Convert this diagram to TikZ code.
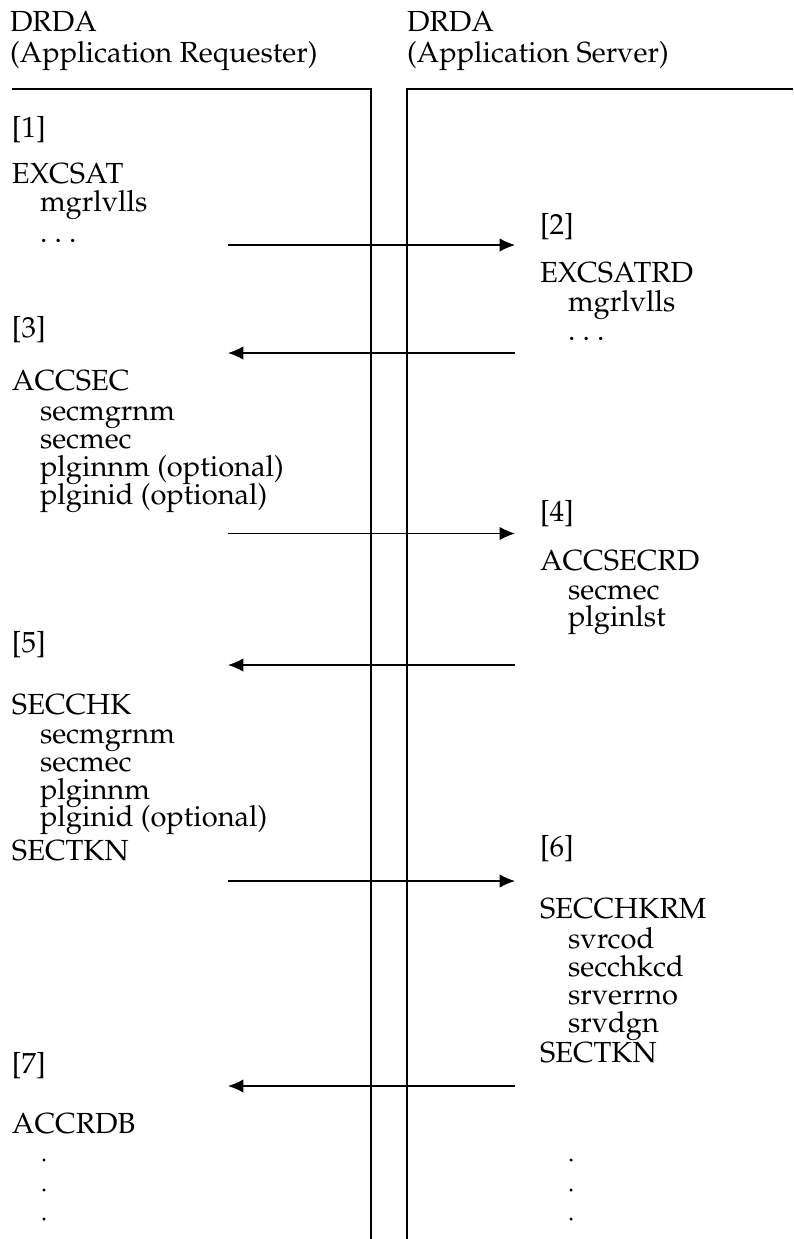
\documentclass[tikz,border=0pt]{standalone}
\usepackage[T1]{fontenc}
\usepackage{mathpazo}
\usetikzlibrary{arrows.meta}

\begin{document}
\begin{tikzpicture}[
  x=0.75pt, y=-0.75pt,
  txt/.style={anchor=base west, inner sep=0pt, outer sep=0pt,
              font=\fontsize{21.8}{26}\selectfont},
  frame/.style={line width=0.85pt, black},
  msg/.style={line width=0.9pt, -{Latex[length=11.5pt,width=10pt]}},
  dot/.style={circle, fill=black, inner sep=0pt, minimum size=2.6pt}
]
\useasboundingbox (0,0) rectangle (793,1239);

% column frames
\draw[frame] (12,89) -- (371,89) -- (371,1239);
\draw[frame] (793,89) -- (407,89) -- (407,1239);

% headers
\node[txt] (hl1) at (10,31) {DRDA};
\node[txt] (hl2) at (10,62) {(Application Requester)};
\node[txt] (hr1) at (407,31) {DRDA};
\node[txt] (hr2) at (407,62) {(Application Server)};

% requester side
\node[txt] (s1)  at (12,137) {[1]};
\node[txt] (l1)  at (12,183) {EXCSAT};
\node[txt] (l1a) at (40,211.5) {mgrlvlls};
\node[txt] (l1b) at (40,242) {.~.~.};

\node[txt] (s3)  at (12,337) {[3]};
\node[txt] (l3)  at (12,390) {ACCSEC};
\node[txt] (l3a) at (40,420) {secmgrnm};
\node[txt] (l3b) at (40,448) {secmec};
\node[txt] (l3c) at (40,476.5) {plginnm (optional)};
\node[txt] (l3d) at (40,504) {plginid (optional)};

\node[txt] (s5)  at (12,652) {[5]};
\node[txt] (l5)  at (12,714) {SECCHK};
\node[txt] (l5a) at (40,743) {secmgrnm};
\node[txt] (l5b) at (40,771) {secmec};
\node[txt] (l5c) at (40,799) {plginnm};
\node[txt] (l5d) at (40,826) {plginid (optional)};
\node[txt] (l5e) at (12,860) {SECTKN};

\node[txt] (s7)  at (12,1073) {[7]};
\node[txt] (l7)  at (12,1133) {ACCRDB};
\node[dot] (ld1) at (44,1160) {};
\node[dot] (ld2) at (44,1190) {};
\node[dot] (ld3) at (44,1219) {};

% server side
\node[txt] (s2)  at (540,234) {[2]};
\node[txt] (r2)  at (540,282.5) {EXCSATRD};
\node[txt] (r2a) at (568,311) {mgrlvlls};
\node[txt] (r2b) at (568,340) {.~.~.};

\node[txt] (s4)  at (540,521) {[4]};
\node[txt] (r4)  at (540,570) {ACCSECRD};
\node[txt] (r4a) at (568,599) {secmec};
\node[txt] (r4b) at (568,626.5) {plginlst};

\node[txt] (s6)  at (540,856) {[6]};
\node[txt] (r6)  at (540,918) {SECCHKRM};
\node[txt] (r6a) at (568,948) {svrcod};
\node[txt] (r6b) at (568,976) {secchkcd};
\node[txt] (r6c) at (568,1004) {srverrno};
\node[txt] (r6d) at (568,1032) {srvdgn};
\node[txt] (r6e) at (540,1062) {SECTKN};
\node[dot] (rd1) at (571,1160) {};
\node[dot] (rd2) at (571,1190) {};
\node[dot] (rd3) at (571,1219) {};

% message flow ends
\coordinate (reqA) at (228,245);   \coordinate (srvA) at (515,245);
\coordinate (reqB) at (228,353);   \coordinate (srvB) at (515,353);
\coordinate (reqC) at (228,533.5); \coordinate (srvC) at (515,533.5);
\coordinate (reqD) at (228,665);   \coordinate (srvD) at (515,665);
\coordinate (reqE) at (228,881);   \coordinate (srvE) at (515,881);
\coordinate (reqF) at (228,1086);  \coordinate (srvF) at (515,1086);

\draw[msg] (reqA) -- (srvA);
\draw[msg] (srvB) -- (reqB);
\draw[msg] (reqC) -- (srvC);
\draw[msg] (srvD) -- (reqD);
\draw[msg] (reqE) -- (srvE);
\draw[msg] (srvF) -- (reqF);
\end{tikzpicture}
\end{document}
